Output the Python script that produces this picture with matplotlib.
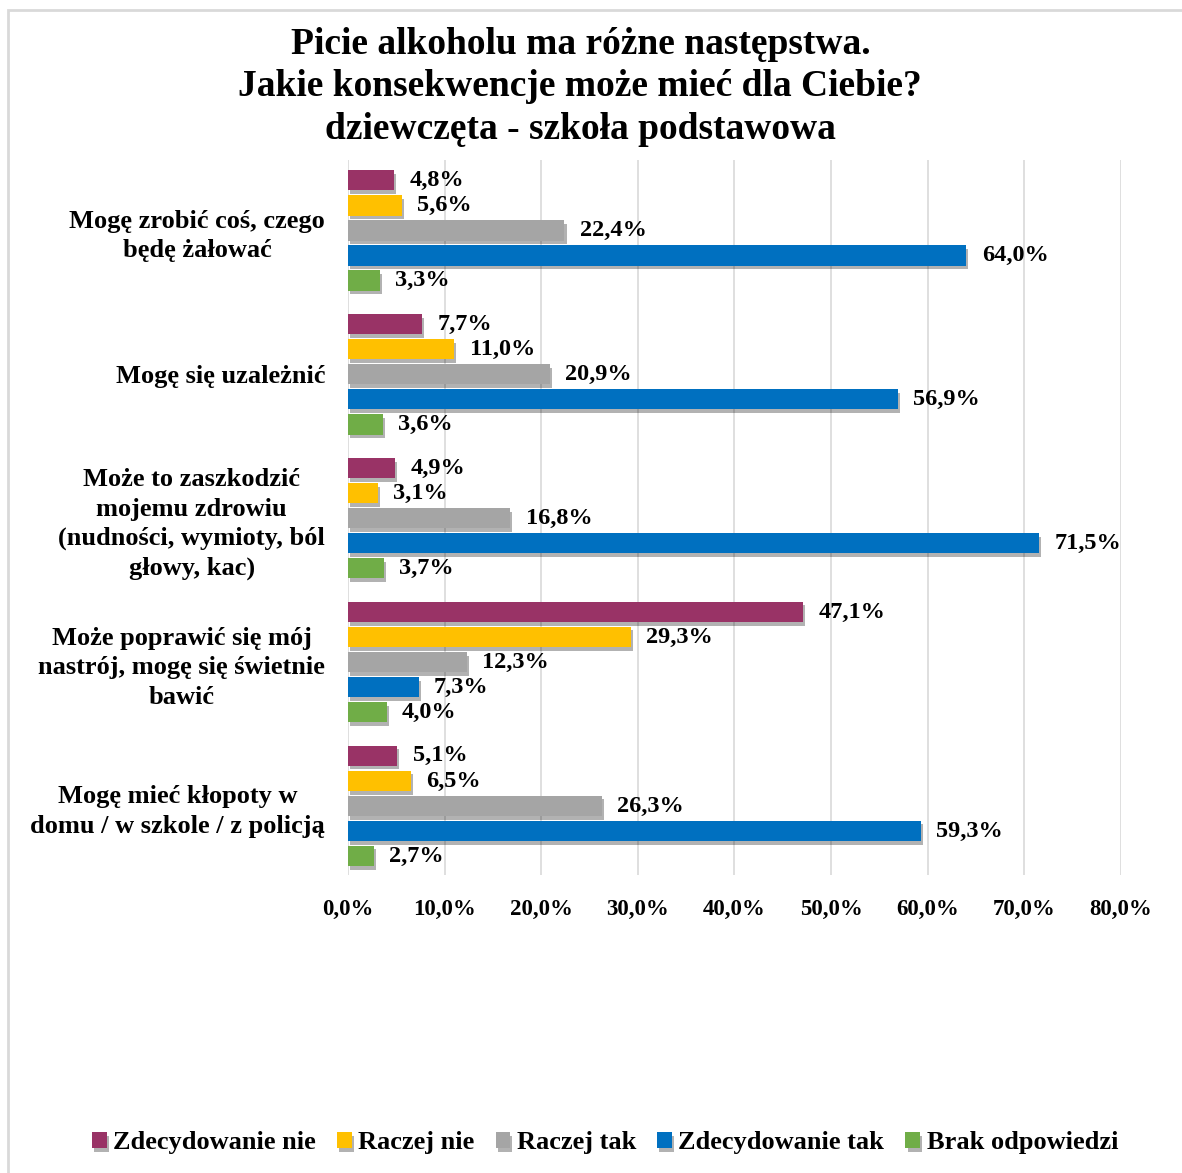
import matplotlib.pyplot as plt
import matplotlib.patheffects as pe
from matplotlib.ticker import FuncFormatter, MultipleLocator
from matplotlib.patches import Rectangle

# dane
kategorie = [
    "Mogę zrobić coś, czego\nbędę żałować",
    "Mogę się uzależnić",
    "Może to zaszkodzić\nmojemu zdrowiu\n(nudności, wymioty, ból\ngłowy, kac)",
    "Może poprawić się mój\nnastrój, mogę się świetnie\nbawić",
    "Mogę mieć kłopoty w\ndomu / w szkole / z policją",
]
serie = ["Zdecydowanie nie", "Raczej nie", "Raczej tak", "Zdecydowanie tak", "Brak odpowiedzi"]
zdecydowanie_nie = [4.8, 7.7, 4.9, 47.1, 5.1]
raczej_nie = [5.6, 11.0, 3.1, 29.3, 6.5]
raczej_tak = [22.4, 20.9, 16.8, 12.3, 26.3]
zdecydowanie_tak = [64.0, 56.9, 71.5, 7.3, 59.3]
brak_odpowiedzi = [3.3, 3.6, 3.7, 4.0, 2.7]
kolory = ["#993366", "#FFC000", "#A5A5A5", "#0070C0", "#70AD47"]

plt.rcParams['font.family'] = ['Liberation Serif', 'DejaVu Serif']
plt.rcParams['font.weight'] = 'bold'

fig = plt.figure(figsize=(11.82, 11.73), dpi=100)
ax = fig.add_axes([0.2944, 0.254, 0.654, 0.6096])

# ramka wykresu
fig.patches.append(Rectangle((8 / 1182, -0.1), 1.2, (1173 - 10) / 1173 + 0.1,
                             transform=fig.transFigure, fill=False,
                             edgecolor='#D9D9D9', linewidth=2))

dane = [zdecydowanie_nie, raczej_nie, raczej_tak, zdecydowanie_tak, brak_odpowiedzi]
krok = 0.174
wys = 0.14
cien = [pe.SimplePatchShadow(offset=(1.5, -2.5), alpha=0.3, shadow_rgbFace='black'), pe.Normal()]
for i, (wartosci, nazwa, kolor) in enumerate(zip(dane, serie, kolory)):
    poz = [k + (i - 2) * krok for k in range(len(kategorie))]
    slupki = ax.barh(poz, wartosci, height=wys, color=kolor, label=nazwa, zorder=3)
    for s in slupki:
        s.set_path_effects(cien)
    for p, w in zip(poz, wartosci):
        ax.annotate(f"{w:.1f}%".replace('.', ','), (w, p), xytext=(11, 0),
                    textcoords='offset points', va='center', ha='left',
                    fontsize=17.5, fontweight='bold', zorder=4)

ax.set_xlim(0, 80)
ax.set_ylim(4.48, -0.49)
ax.xaxis.set_major_locator(MultipleLocator(10))
ax.xaxis.set_major_formatter(FuncFormatter(lambda v, _: f"{v:.1f}%".replace('.', ',')))
ax.grid(axis='x', color='#D9D9D9', linewidth=1.2, zorder=0)
ax.set_yticks(range(len(kategorie)))
ax.set_yticklabels(kategorie, fontsize=19, fontweight='bold', ha='right',
                   multialignment='center', linespacing=1.36)
ax.tick_params(axis='y', length=0, pad=16.5)
ax.tick_params(axis='x', length=0, pad=17, labelsize=16.5)
for lab in ax.get_xticklabels():
    lab.set_fontweight('bold')
for sp in ax.spines.values():
    sp.set_visible(False)

fig.text(0.491, 1 - 87 / 1173, "Picie alkoholu ma różne następstwa.\nJakie konsekwencje może mieć dla Ciebie?\ndziewczęta - szkoła podstawowa",
         ha='center', va='center', fontsize=27, fontweight='bold', linespacing=1.29)

leg = fig.legend(loc='center', bbox_to_anchor=(0.512, 1 - 1143 / 1173), ncol=5, frameon=False,
                 handlelength=0.55, handleheight=0.55, handletextpad=0.25,
                 columnspacing=0.8, prop={'weight': 'bold', 'size': 19})

fig.savefig("out.png", dpi=100)
